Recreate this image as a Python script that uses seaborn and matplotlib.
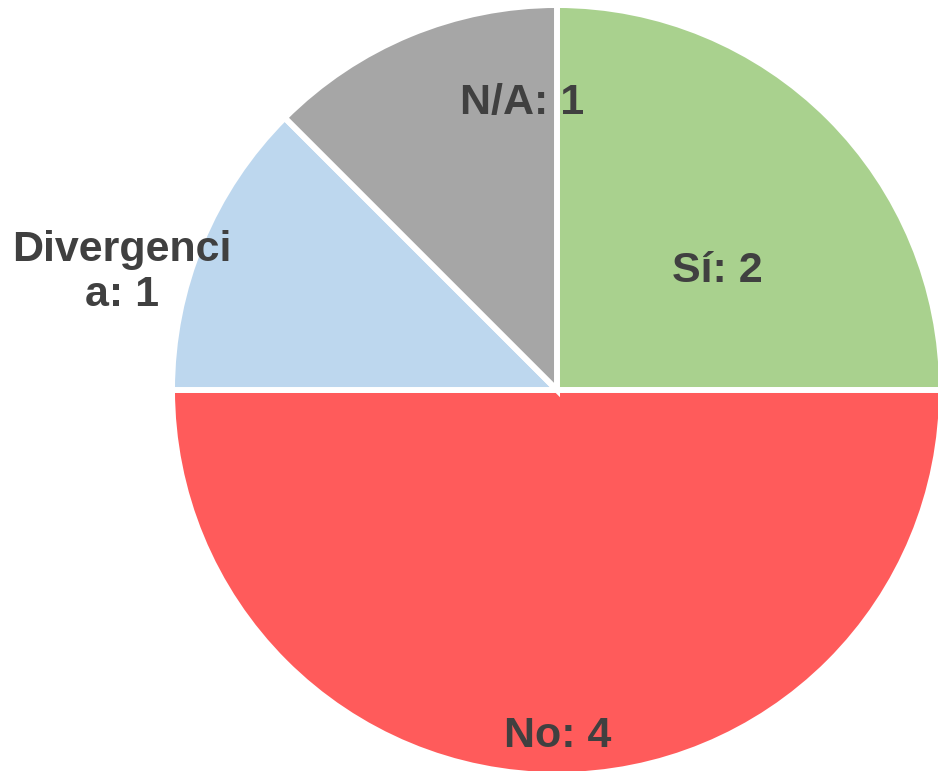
import matplotlib
matplotlib.use("Agg")
import matplotlib.pyplot as plt
import seaborn as sns

# data
categories = ["Sí", "No", "Divergencia", "N/A"]
values = [2, 4, 1, 1]
slice_colors = ["#A9D18E", "#FF5B5B", "#BDD7EE", "#A6A6A6"]
# the long label is wrapped the same way as in the original
label_texts = ["Sí: 2", "No: 4", "Divergenci\na: 1", "N/A: 1"]
label_pos = [(0.416, 0.310), (0.003, -0.899), (-1.130, 0.306), (-0.091, 0.745)]

sns.set_theme(style="white")
plt.rcParams['font.family'] = ['Liberation Sans', 'DejaVu Sans']

fig = plt.figure(figsize=(9.38, 7.71), dpi=100)
ax = fig.add_axes([0, 0, 1, 1])

wedges, _ = ax.pie(values, colors=slice_colors, startangle=90, counterclock=False,
                   radius=1.0, center=(0, 0),
                   wedgeprops=dict(edgecolor="white", linewidth=4.3))

for txt, (x, y) in zip(label_texts, label_pos):
    ax.text(x, y, txt, ha="center", va="center", multialignment="center",
            fontsize=31, fontweight="bold", color="#404040", linespacing=1.15)

ax.set_aspect("auto")
ax.set_xlim(-557 / 385, 381 / 385)
ax.set_ylim(-381 / 385, 390 / 385)
ax.axis("off")

fig.savefig("out.png", dpi=100, facecolor="white")
